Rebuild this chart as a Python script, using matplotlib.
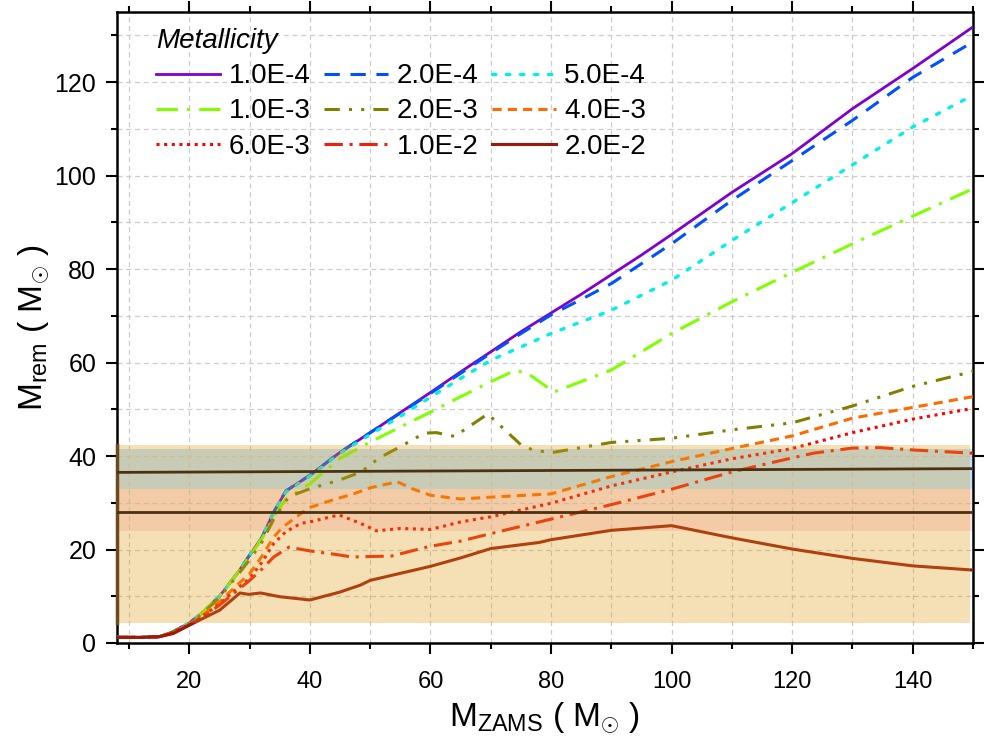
import matplotlib
matplotlib.use("Agg")
import matplotlib.pyplot as plt
from matplotlib.ticker import MultipleLocator

plt.rcParams['font.family'] = ['Liberation Sans', 'DejaVu Sans']
plt.rcParams['mathtext.fontset'] = 'custom'
plt.rcParams['mathtext.rm'] = 'Liberation Sans'
plt.rcParams['mathtext.it'] = 'Liberation Sans:italic'

# remnant mass vs ZAMS mass, one curve per metallicity
x_1e4 = [8, 12, 15, 17, 20, 22, 25, 28, 30, 32, 34, 36, 40, 45, 50, 55, 60, 65, 70, 75, 80, 85, 90, 95, 100, 110, 120, 130, 140, 150]
y_1e4 = [1.2, 1.2, 1.35, 2.2, 4.3, 6.3, 10.0, 15.0, 18.8, 22.5, 28.0, 32.5, 35.9, 40.8, 45.0, 49.3, 53.6, 58.0, 62.3, 66.6, 70.6, 74.6, 78.8, 83.0, 87.4, 96.4, 104.7, 114.3, 122.9, 131.8]

x_2e4 = [8, 12, 15, 17, 20, 22, 25, 28, 30, 32, 34, 36, 40, 45, 50, 55, 60, 65, 70, 75, 80, 85, 90, 100, 110, 120, 130, 140, 150]
y_2e4 = [1.2, 1.2, 1.35, 2.2, 4.3, 6.3, 10.0, 15.0, 18.8, 22.5, 28.0, 32.5, 35.9, 40.8, 45.0, 49.2, 53.4, 57.7, 62.0, 66.2, 70.2, 73.5, 76.9, 85.4, 94.7, 103.2, 111.8, 121.0, 128.6]

x_5e4 = [8, 12, 15, 17, 20, 22, 25, 28, 30, 32, 34, 36, 40, 45, 50, 55, 60, 65, 70, 80, 90, 100, 110, 120, 130, 140, 150]
y_5e4 = [1.2, 1.2, 1.35, 2.2, 4.3, 6.3, 10.0, 15.0, 18.8, 22.5, 28.0, 32.3, 35.7, 40.6, 44.6, 48.5, 52.6, 56.6, 60.5, 66.2, 71.2, 77.6, 86.1, 94.2, 102.3, 110.4, 117.2]

x_1e3 = [8, 12, 15, 17, 20, 22, 25, 28, 30, 32, 34, 36, 40, 45, 50, 55, 60, 65, 70, 74, 76, 80.5, 90, 100, 110, 120, 130, 140, 150]
y_1e3 = [1.2, 1.2, 1.35, 2.2, 4.3, 6.3, 10.0, 15.0, 18.6, 22.2, 27.0, 30.8, 34.1, 39.5, 43.0, 46.2, 49.4, 52.7, 55.9, 58.3, 57.8, 53.7, 58.4, 66.2, 73.0, 79.3, 85.4, 91.3, 97.2]

x_2e3 = [8, 12, 15, 17, 20, 22, 25, 28, 30, 32, 34, 36.5, 40, 45, 48.5, 51.5, 55, 59, 61, 64, 69.5, 75, 77, 80, 90, 100, 110, 120, 130, 140, 150]
y_2e3 = [1.2, 1.2, 1.35, 2.2, 4.2, 6.1, 9.7, 14.5, 17.8, 21.5, 26.5, 31.3, 33.0, 34.9, 36.6, 39.6, 42.0, 44.9, 45.0, 44.2, 49.0, 42.4, 41.3, 40.7, 42.9, 43.8, 45.6, 47.1, 50.7, 54.9, 58.1]

x_4e3 = [8, 12, 15, 17, 20, 22, 25, 28, 30, 32, 34, 35.5, 38.5, 40, 44, 47, 50, 54.5, 57, 60, 65, 70, 80, 90, 100, 110, 120, 130, 140, 150]
y_4e3 = [1.2, 1.2, 1.35, 2.1, 4.0, 5.7, 8.8, 12.5, 14.8, 18.5, 22.7, 24.8, 27.7, 29.0, 30.7, 31.8, 33.2, 34.5, 33.0, 31.6, 30.8, 31.2, 31.9, 35.6, 38.8, 41.6, 44.3, 48.1, 50.4, 52.7]

x_6e3 = [8, 12, 15, 17, 20, 22, 25, 28, 30, 32, 34, 36, 38.5, 40, 44.8, 48.4, 51, 55, 60, 65, 70, 80, 90, 100, 110, 120, 130, 140, 150]
y_6e3 = [1.2, 1.2, 1.35, 2.1, 3.9, 5.5, 8.4, 11.7, 13.8, 17.2, 21.3, 23.8, 25.6, 25.9, 27.4, 25.6, 24.0, 24.5, 24.3, 25.9, 27.0, 29.9, 33.6, 36.6, 39.4, 41.6, 45.0, 47.9, 50.2]

x_1e2 = [8, 12, 15, 17, 20, 22, 25, 28, 30, 31.8, 34, 36.5, 40, 44, 47, 50, 53.5, 60, 65, 70, 80, 90, 100, 110, 118, 123.5, 130, 134.5, 140, 150]
y_1e2 = [1.2, 1.2, 1.35, 2.1, 3.9, 5.4, 8.1, 11.3, 13.4, 15.5, 18.4, 20.5, 19.7, 19.0, 18.4, 18.5, 18.6, 20.7, 21.8, 23.4, 26.5, 29.6, 32.9, 36.6, 39.0, 40.6, 41.7, 41.8, 41.3, 40.6]

x_2e2 = [8, 12, 15, 17.3, 20, 22, 25, 28.4, 29.8, 31.8, 35, 40, 45, 48.4, 50, 55, 60, 65, 70, 78, 80, 90, 100, 110, 120, 130, 140, 150]
y_2e2 = [1.2, 1.2, 1.35, 2.0, 3.8, 5.1, 7.0, 10.7, 10.4, 10.7, 9.9, 9.2, 10.9, 12.4, 13.4, 14.9, 16.4, 18.2, 20.2, 21.5, 22.1, 24.1, 25.1, 22.5, 20.1, 18.1, 16.5, 15.6]

labels = ['1.0E-4', '2.0E-4', '5.0E-4', '1.0E-3', '2.0E-3', '4.0E-3', '6.0E-3', '1.0E-2', '2.0E-2']

# observed mass ranges (shaded) and two reference masses
band_all = (4.3, 42.4)
band_blue = (32.9, 41.5)
band_red = (24.0, 32.9)
ref_x = [8, 150]
ref_hi = [36.5, 37.3]
ref_lo = [28.1, 28.1]

fig = plt.figure(figsize=(9.97, 7.4), dpi=100)
ax = fig.add_axes([0.1174, 0.1311, 0.8585, 0.8527])

styles = [
    dict(color='#8000cc', ls='-', lw=2.0),
    dict(color='#0050ff', ls=(0, (5, 3.5)), lw=2.2),
    dict(color='#00f0e6', ls=(0, (1, 3.2)), lw=2.4, dash_capstyle='round'),
    dict(color='#80ff00', ls=(0, (7, 3, 1, 3)), lw=2.2),
    dict(color='#808000', ls=(0, (5, 3, 1, 3, 1, 3)), lw=2.2),
    dict(color='#ff6a00', ls=(0, (3, 2)), lw=2.2),
    dict(color='#ff0000', ls=(0, (1, 1.5)), lw=2.2),
    dict(color='#f01e0a', ls=(0, (6, 2.2, 1, 2.2)), lw=2.2),
    dict(color='#9c1a0c', ls='-', lw=2.2),
]
xs = [x_1e4, x_2e4, x_5e4, x_1e3, x_2e3, x_4e3, x_6e3, x_1e2, x_2e2]
ys = [y_1e4, y_2e4, y_5e4, y_1e3, y_2e3, y_4e3, y_6e3, y_1e2, y_2e2]

handles = []
for xv, yv, lab, st in zip(xs, ys, labels, styles):
    h, = ax.plot(xv, yv, label=lab, zorder=3, **st)
    handles.append(h)

# bands: light coloured bands under the curves, translucent wheat on top
xf = 0.997
ax.axhspan(*band_blue, xmin=0, xmax=1, color='#bee1ff', lw=0, zorder=0.5)
ax.axhspan(*band_red, xmin=0, xmax=1, color='#fce1e9', lw=0, zorder=0.5)
ax.axhspan(*band_all, xmin=0, xmax=xf, color='#e09a10', alpha=0.3, lw=0, zorder=4)
ax.plot([8, 8], band_all, color='#6b4a1e', lw=2.5, zorder=5, clip_on=False)

ax.plot(ref_x, ref_hi, color='#4a3212', lw=2.0, zorder=5)
ax.plot(ref_x, ref_lo, color='#4a3212', lw=2.0, zorder=5)

ax.set_xlim(8, 150)
ax.set_ylim(0, 135)
ax.xaxis.set_major_locator(MultipleLocator(20))
ax.xaxis.set_minor_locator(MultipleLocator(10))
ax.yaxis.set_major_locator(MultipleLocator(20))
ax.yaxis.set_minor_locator(MultipleLocator(10))
ax.tick_params(which='both', direction='out', top=True, right=True, width=1.5)
ax.tick_params(which='major', length=8)
ax.tick_params(which='minor', length=4.5)
ax.tick_params(axis='y', labelsize=18, pad=7)
ax.tick_params(axis='x', labelsize=17, pad=12)
for s in ax.spines.values():
    s.set_linewidth(1.8)

ax.grid(True, which='both', color='#cccccc', ls=(0, (4, 3)), lw=0.9, zorder=1)

ax.set_xlabel(r'M$_{\mathrm{ZAMS}}$ ( M$_{\odot}$ )', fontsize=24, labelpad=6)
ax.set_ylabel(r'M$_{\mathrm{rem}}$ ( M$_{\odot}$ )', fontsize=24, labelpad=2)

# legend is filled row by row in the reference
order = [0, 3, 6, 1, 4, 7, 2, 5, 8]
leg = ax.legend([handles[i] for i in order], [labels[i] for i in order],
                ncol=3, loc='upper left', bbox_to_anchor=(0.027, 1.0),
                frameon=False, fontsize=20, handlelength=2.3, handletextpad=0.3,
                columnspacing=0.5, labelspacing=0.33, title='Metallicity',
                title_fontproperties={'size': 20, 'style': 'italic'},
                alignment='left', borderaxespad=0.0, borderpad=0.58)
leg.set_zorder(10)

fig.savefig('out.png', dpi=100)
